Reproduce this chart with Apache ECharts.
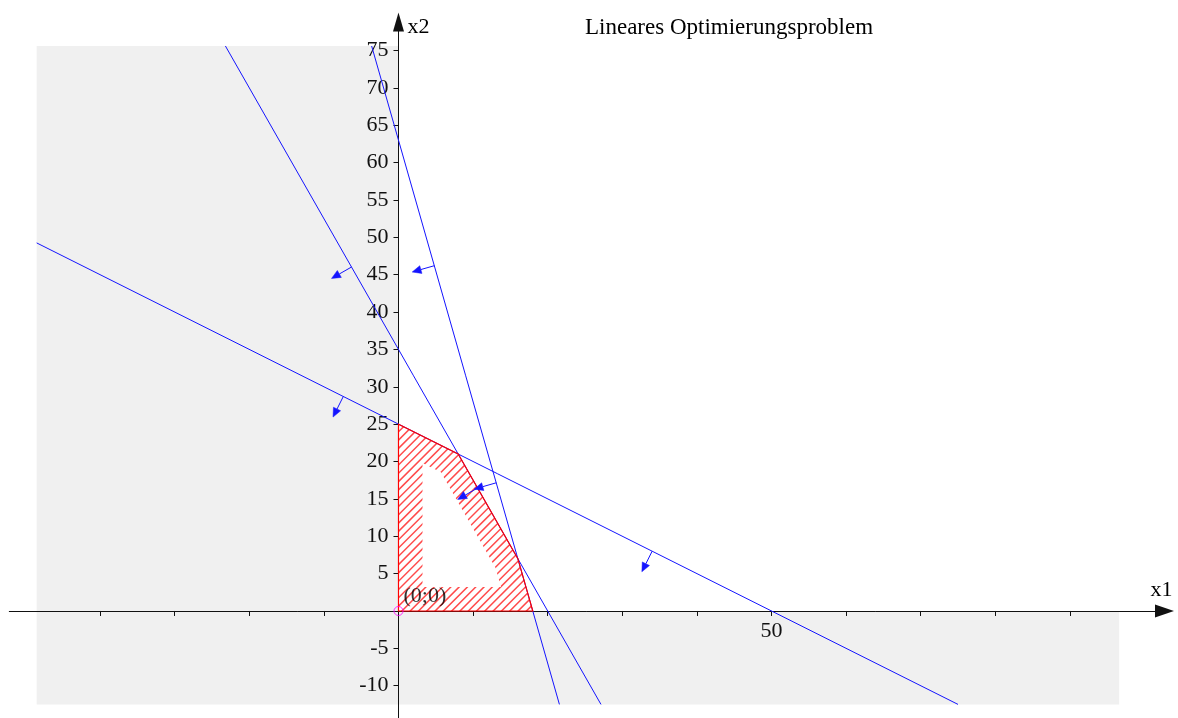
<!DOCTYPE html>
<html>
<head>
<meta charset="utf-8">
<script src="https://cdn.jsdelivr.net/npm/echarts@6/dist/echarts.min.js"></script>
<style>
  html, body { margin: 0; padding: 0; background: #ffffff; }
  #chart { width: 1178px; height: 718px; }
</style>
</head>
<body>
<div id="chart"></div>
<script>
// Constraints: a*x1 + b*x2 <= c
const constraintA = [1, 7, 7];
const constraintB = [2, 4, 2];
const constraintC = [50, 140, 126];

// Corners of the feasible region (x1, x2)
const feasibleX1 = [0, 0, 8, 16, 18];
const feasibleX2 = [0, 25, 21, 7, 0];

// Direction arrows: which constraint line they sit on, and at which x1
const arrowLine = [0, 0, 1, 1, 2, 2];
const arrowX1 = [-7.4, 34, -6.3, 10.6, 4.8, 13.1];

// Visible window of the drawing
const viewX1 = [-48.5, 96.6];
const viewX2 = [-12.5, 75.6];

// Axis ticks and labels
const xTicks = [-40, -30, -20, -10, 10, 20, 30, 40, 50, 60, 70, 80, 90];
const xTickLabels = [50];
const yTicks = [-10, -5, 5, 10, 15, 20, 25, 30, 35, 40, 45, 50, 55, 60, 65, 70, 75];

const SERIF = '"Liberation Serif", "DejaVu Serif", serif';
const BLUE = '#1414ff';
const RED = '#ff0000';

// Pixel frame of the plot
const GRID = { left: 9.3, right: 13.5, top: 22, bottom: 0 };
const X_MIN = -52.17, X_MAX = 102.68;
const Y_MIN = -14.32, Y_MAX = 78.81;
const PLOT_W = 1178 - GRID.left - GRID.right;
const PLOT_H = 718 - GRID.top - GRID.bottom;
// shift the axes so that they cross at the origin
const Y_AXIS_OFFSET = -(0 - X_MIN) / (X_MAX - X_MIN) * PLOT_W;
const X_AXIS_OFFSET = -(0 - Y_MIN) / (Y_MAX - Y_MIN) * PLOT_H;

// Segment of a constraint line inside the visible window
function clipLine(a, b, c) {
  const pts = [];
  viewX1.forEach(function (x) {
    const y = (c - a * x) / b;
    if (y >= viewX2[0] - 1e-9 && y <= viewX2[1] + 1e-9) pts.push([x, y]);
  });
  viewX2.forEach(function (y) {
    const x = (c - b * y) / a;
    if (x >= viewX1[0] - 1e-9 && x <= viewX1[1] + 1e-9) pts.push([x, y]);
  });
  pts.sort(function (p, q) { return p[0] - q[0]; });
  return [pts[0], pts[pts.length - 1]];
}

// Polygon shrunk inward by d pixels (edges moved parallel)
function insetPolygon(pts, d) {
  const n = pts.length;
  let area = 0;
  for (let i = 0; i < n; i++) {
    const p = pts[i], q = pts[(i + 1) % n];
    area += p[0] * q[1] - q[0] * p[1];
  }
  const s = area > 0 ? 1 : -1;
  const lines = pts.map(function (p, i) {
    const q = pts[(i + 1) % n];
    let dx = q[0] - p[0], dy = q[1] - p[1];
    const L = Math.hypot(dx, dy);
    dx /= L; dy /= L;
    const nx = -dy * s, ny = dx * s;
    return { p: [p[0] + nx * d, p[1] + ny * d], u: [dx, dy] };
  });
  const out = [];
  for (let i = 0; i < n; i++) {
    const A = lines[(i - 1 + n) % n], B = lines[i];
    const cr = A.u[0] * B.u[1] - A.u[1] * B.u[0];
    const wx = B.p[0] - A.p[0], wy = B.p[1] - A.p[1];
    const t = (wx * B.u[1] - wy * B.u[0]) / cr;
    out.push([A.p[0] + t * A.u[0], A.p[1] + t * A.u[1]]);
  }
  return out;
}

const feasible = feasibleX1.map(function (x, i) { return [x, feasibleX2[i]]; });

const arrowData = arrowX1.map(function (x, i) {
  const k = arrowLine[i];
  const a = constraintA[k], b = constraintB[k], c = constraintC[k];
  return [x, (c - a * x) / b, a, b];
});

const lineSeries = constraintA.map(function (a, k) {
  return {
    type: 'line',
    data: clipLine(a, constraintB[k], constraintC[k]),
    symbol: 'none',
    silent: true,
    z: 4,
    lineStyle: { color: BLUE, width: 1 }
  };
});

const chart = echarts.init(document.getElementById('chart'), null, { renderer: 'canvas' });

chart.setOption({
  animation: false,
  backgroundColor: '#ffffff',
  title: {
    text: 'Lineares Optimierungsproblem',
    left: 580,
    top: 11,
    textStyle: { fontFamily: SERIF, fontSize: 23, fontWeight: 'normal', color: '#000' }
  },
  grid: {
    left: GRID.left, right: GRID.right, top: GRID.top, bottom: GRID.bottom,
    containLabel: false,
    outerBoundsMode: 'none'
  },
  xAxis: {
    type: 'value',
    min: X_MIN,
    max: X_MAX,
    position: 'bottom',
    offset: X_AXIS_OFFSET,
    z: 1,
    name: 'x1',
    nameLocation: 'end',
    nameGap: -3,
    nameTextStyle: {
      fontFamily: SERIF, fontSize: 22, color: '#000',
      align: 'center', verticalAlign: 'bottom', padding: [0, 0, 10, 0]
    },
    axisLine: {
      onZero: false,
      symbol: ['none', 'triangle'],
      symbolSize: [13, 19],
      lineStyle: { color: '#111', width: 1 }
    },
    axisTick: { show: true, length: 5, customValues: xTicks, lineStyle: { color: '#111' } },
    axisLabel: { customValues: xTickLabels, margin: 9, fontFamily: SERIF, fontSize: 22, color: '#111' },
    splitLine: { show: false }
  },
  yAxis: {
    type: 'value',
    min: Y_MIN,
    max: Y_MAX,
    position: 'left',
    offset: Y_AXIS_OFFSET,
    z: 1,
    name: 'x2',
    nameLocation: 'end',
    nameGap: -5,
    nameTextStyle: {
      fontFamily: SERIF, fontSize: 22, color: '#000',
      align: 'left', verticalAlign: 'middle', padding: [0, 0, 0, 9]
    },
    axisLine: {
      onZero: false,
      symbol: ['none', 'triangle'],
      symbolSize: [11, 19],
      lineStyle: { color: '#111', width: 1 }
    },
    axisTick: { show: true, length: 5, customValues: yTicks, lineStyle: { color: '#111' } },
    axisLabel: { customValues: yTicks, margin: 10, fontFamily: SERIF, fontSize: 22, color: '#111' },
    splitLine: { show: false }
  },
  series: [
    {
      // shaded area outside the first quadrant
      type: 'custom',
      silent: true,
      z: 0,
      data: [[0, 0]],
      renderItem: function (params, api) {
        const pts = [
          [viewX1[0], viewX2[1]], [0, viewX2[1]], [0, 0],
          [viewX1[1], 0], [viewX1[1], viewX2[0]], [viewX1[0], viewX2[0]]
        ].map(function (p) { return api.coord(p); });
        return { type: 'polygon', shape: { points: pts }, style: { fill: '#f0f0f0', stroke: null } };
      }
    },
    {
      // feasible region: hatched band along its border
      type: 'custom',
      silent: true,
      z: 2,
      data: [[0, 0]],
      renderItem: function (params, api) {
        const pts = feasible.map(function (p) { return api.coord(p); });
        const inner = insetPolygon(pts, 24);
        let minS = Infinity, maxS = -Infinity, minX = Infinity, maxX = -Infinity;
        pts.forEach(function (p) {
          minS = Math.min(minS, p[0] + p[1]); maxS = Math.max(maxS, p[0] + p[1]);
          minX = Math.min(minX, p[0]); maxX = Math.max(maxX, p[0]);
        });
        const hatchLines = [];
        for (let s = Math.floor(minS); s <= maxS; s += 8.3) {
          hatchLines.push({
            type: 'line',
            shape: { x1: minX - 2, y1: s - minX + 2, x2: maxX + 2, y2: s - maxX - 2 },
            style: { stroke: '#ff4a4a', lineWidth: 1.5 }
          });
        }
        return {
          type: 'group',
          children: [
            {
              type: 'group',
              clipPath: { type: 'polygon', shape: { points: pts } },
              children: hatchLines
            },
            { type: 'polygon', shape: { points: inner }, style: { fill: '#ffffff', stroke: null } }
          ]
        };
      }
    }
  ].concat(lineSeries).concat([
    {
      // outline of the feasible region
      type: 'custom',
      silent: true,
      z: 5,
      data: [[0, 0]],
      renderItem: function (params, api) {
        const pts = feasible.map(function (p) { return api.coord(p); });
        return { type: 'polygon', shape: { points: pts }, style: { fill: null, stroke: RED, lineWidth: 1.2 } };
      }
    },
    {
      // arrows pointing into the allowed half-plane
      type: 'custom',
      silent: true,
      z: 6,
      data: arrowData,
      renderItem: function (params, api) {
        const x = api.value(0), y = api.value(1), a = api.value(2), b = api.value(3);
        const p = api.coord([x, y]);
        const q = api.coord([x - a * 0.1, y - b * 0.1]);
        let dx = q[0] - p[0], dy = q[1] - p[1];
        const L = Math.hypot(dx, dy);
        dx /= L; dy /= L;
        const len = 23, head = 9, half = 4;
        const tip = [p[0] + dx * len, p[1] + dy * len];
        const base = [tip[0] - dx * head, tip[1] - dy * head];
        return {
          type: 'group',
          children: [
            { type: 'line', shape: { x1: p[0], y1: p[1], x2: base[0], y2: base[1] }, style: { stroke: BLUE, lineWidth: 1 } },
            {
              type: 'polygon',
              shape: { points: [tip, [base[0] - dy * half, base[1] + dx * half], [base[0] + dy * half, base[1] - dx * half]] },
              style: { fill: BLUE, stroke: BLUE, lineWidth: 0.5 }
            }
          ]
        };
      }
    },
    {
      type: 'scatter',
      silent: true,
      z: 7,
      data: [[0, 0]],
      symbol: 'circle',
      symbolSize: 9,
      itemStyle: { color: 'rgba(0,0,0,0)', borderColor: '#ff00ff', borderWidth: 1 },
      label: {
        show: true,
        formatter: '(0;0)',
        position: [10, -21],
        align: 'left',
        verticalAlign: 'top',
        fontFamily: SERIF,
        fontSize: 22,
        color: '#000'
      }
    }
  ])
});
</script>
</body>
</html>
